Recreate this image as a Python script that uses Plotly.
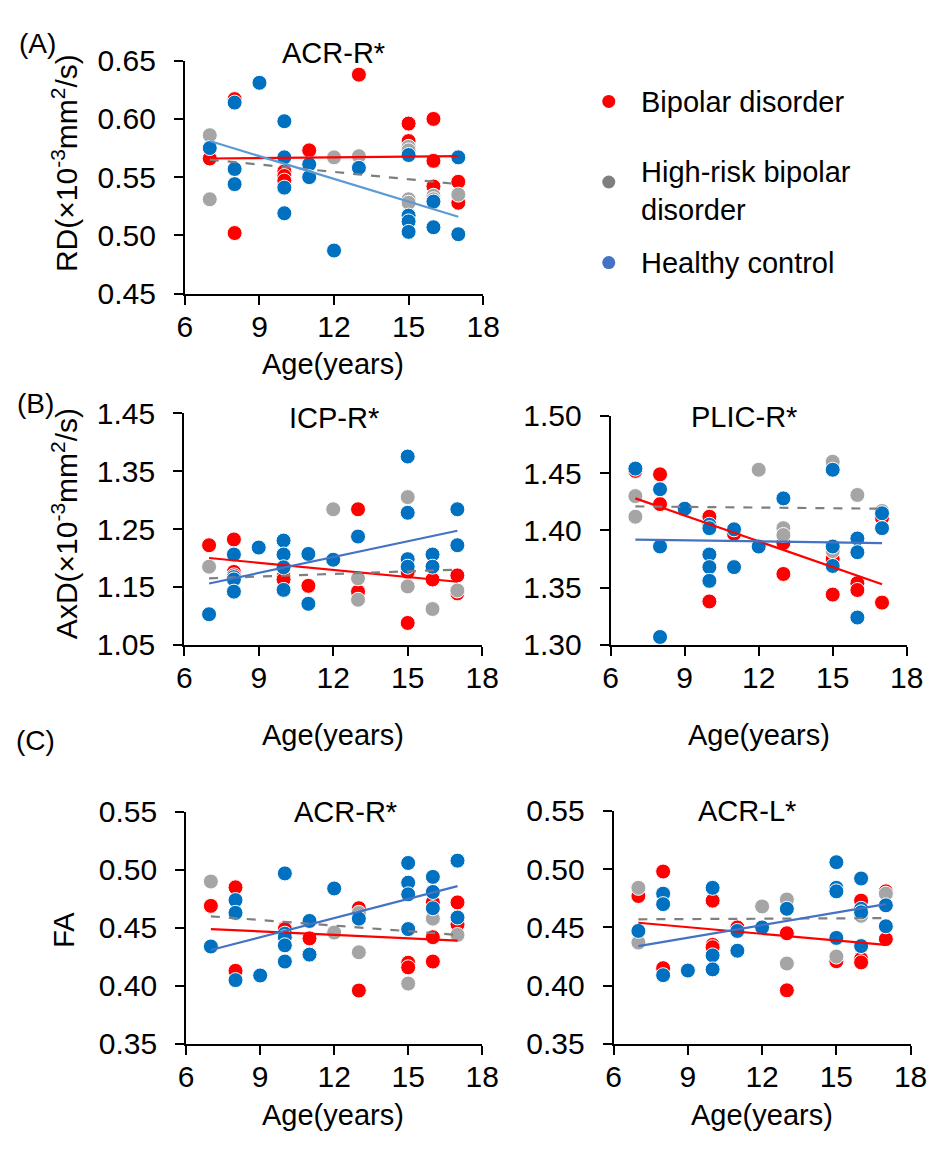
import plotly.graph_objects as go

W, H = 950, 1157

# ---------------- DATA ----------------
# Panel A: RD, ACR-R*
a_bd_age = [7, 8, 8, 10, 10, 10, 11, 13, 15, 15, 16, 16, 16, 17, 17]
a_bd_val = [0.566, 0.617, 0.502, 0.555, 0.551, 0.547, 0.573, 0.638, 0.596, 0.581, 0.600, 0.564, 0.542, 0.546, 0.528]
a_hr_age = [7, 7, 12, 13, 15, 15, 15, 15, 16, 16, 17]
a_hr_val = [0.586, 0.531, 0.567, 0.568, 0.576, 0.573, 0.531, 0.528, 0.534, 0.531, 0.535]
a_hc_age = [7, 8, 8, 8, 9, 10, 10, 10, 10, 11, 11, 12, 13, 15, 15, 15, 15, 16, 16, 17, 17]
a_hc_val = [0.575, 0.614, 0.557, 0.544, 0.631, 0.598, 0.567, 0.541, 0.519, 0.561, 0.550, 0.487, 0.558,
            0.569, 0.517, 0.512, 0.503, 0.529, 0.507, 0.567, 0.501]
a_fit_bd = [0.566, 0.568]
a_fit_hr = [0.565, 0.544]
a_fit_hc = [0.581, 0.516]

# Panel B left: AxD, ICP-R*
bl_bd_age = [7, 8, 8, 8, 10, 10, 11, 13, 13, 15, 15, 16, 17, 17]
bl_bd_val = [1.222, 1.232, 1.176, 1.170, 1.168, 1.163, 1.152, 1.284, 1.142, 1.176, 1.088, 1.163, 1.170, 1.139]
bl_hr_age = [7, 12, 13, 13, 15, 15, 16, 17]
bl_hr_val = [1.185, 1.284, 1.165, 1.128, 1.305, 1.151, 1.112, 1.144]
bl_hc_age = [7, 8, 8, 8, 8, 9, 10, 10, 10, 10, 11, 11, 12, 13, 15, 15, 15, 15, 16, 16, 17, 17]
bl_hc_val = [1.103, 1.206, 1.167, 1.163, 1.142, 1.218, 1.230, 1.206, 1.184, 1.145, 1.207, 1.121, 1.197, 1.237,
             1.375, 1.278, 1.198, 1.185, 1.206, 1.185, 1.284, 1.222]
bl_fit_bd = [1.200, 1.159]
bl_fit_hr = [1.165, 1.180]
bl_fit_hc = [1.156, 1.247]

# Panel B right: AxD, PLIC-R*
br_bd_age = [7, 8, 8, 10, 10, 11, 13, 13, 15, 15, 16, 16, 17, 17]
br_bd_val = [1.452, 1.449, 1.423, 1.412, 1.338, 1.397, 1.389, 1.362, 1.375, 1.344, 1.354, 1.348, 1.411, 1.337]
br_hr_age = [7, 7, 9, 12, 13, 13, 15, 15, 16, 17]
br_hr_val = [1.430, 1.412, 1.418, 1.453, 1.402, 1.396, 1.460, 1.382, 1.431, 1.417]
br_hc_age = [7, 8, 8, 8, 9, 10, 10, 10, 10, 10, 11, 11, 12, 13, 15, 15, 15, 16, 16, 16, 17, 17]
br_hc_val = [1.454, 1.436, 1.386, 1.307, 1.419, 1.405, 1.402, 1.379, 1.368, 1.356, 1.401, 1.368, 1.386, 1.428,
             1.453, 1.386, 1.369, 1.393, 1.381, 1.324, 1.415, 1.402]
br_fit_bd = [1.428, 1.353]
br_fit_hr = [1.421, 1.419]
br_fit_hc = [1.392, 1.389]

# Panel C left: FA, ACR-R*
cl_bd_age = [7, 8, 8, 10, 10, 11, 13, 13, 15, 15, 16, 16, 16, 17, 17]
cl_bd_val = [0.469, 0.485, 0.413, 0.450, 0.449, 0.441, 0.467, 0.396, 0.420, 0.416, 0.472, 0.442, 0.421, 0.472, 0.453]
cl_hr_age = [7, 12, 13, 13, 15, 16, 17]
cl_hr_val = [0.490, 0.446, 0.463, 0.429, 0.402, 0.458, 0.444]
cl_hc_age = [7, 8, 8, 8, 9, 10, 10, 10, 10, 10, 11, 11, 12, 13, 15, 15, 15, 15, 16, 16, 16, 17, 17]
cl_hc_val = [0.434, 0.474, 0.463, 0.405, 0.409, 0.497, 0.445, 0.442, 0.435, 0.421, 0.456, 0.427, 0.484, 0.458,
             0.506, 0.489, 0.479, 0.449, 0.494, 0.481, 0.467, 0.508, 0.459]
cl_fit_bd = [0.449, 0.439]
cl_fit_hr = [0.460, 0.444]
cl_fit_hc = [0.431, 0.486]

# Panel C right: FA, ACR-L*
cr_bd_age = [7, 8, 8, 10, 10, 10, 11, 13, 13, 15, 16, 16, 16, 17, 17]
cr_bd_val = [0.477, 0.498, 0.415, 0.473, 0.435, 0.433, 0.450, 0.445, 0.396, 0.421, 0.473, 0.423, 0.420, 0.481, 0.440]
cr_hr_age = [7, 7, 12, 13, 13, 15, 15, 16, 17]
cr_hr_val = [0.484, 0.437, 0.468, 0.474, 0.419, 0.481, 0.425, 0.460, 0.479]
cr_hc_age = [7, 8, 8, 8, 9, 10, 10, 10, 11, 11, 12, 13, 15, 15, 15, 15, 16, 16, 16, 16, 17, 17]
cr_hc_val = [0.447, 0.479, 0.470, 0.409, 0.413, 0.484, 0.426, 0.414, 0.447, 0.430, 0.450, 0.466,
             0.506, 0.484, 0.481, 0.441, 0.492, 0.466, 0.463, 0.434, 0.469, 0.451]
cr_fit_bd = [0.454, 0.435]
cr_fit_hr = [0.457, 0.458]
cr_fit_hc = [0.434, 0.470]

fit_ages = [7, 17]
x_ticks = [6, 9, 12, 15, 18]
group_names = ["Bipolar disorder", "High-risk bipolar<br>disorder", "Healthy control"]

# ---------------- STYLE ----------------
FONT = "Arial, Liberation Sans, sans-serif"
C_BD, C_HR, C_HC = "#FF0000", "#A5A5A5", "#0070C0"
L_HR = "#7F7F7F"

fig = go.Figure()

panels = [
    ("", (a_bd_age, a_bd_val, a_hr_age, a_hr_val, a_hc_age, a_hc_val), (a_fit_bd, a_fit_hr, a_fit_hc),
     "#5B9BD5", (181.7, 488), (45, 285), (0.45, 0.65), 0.05),
    ("2", (bl_bd_age, bl_bd_val, bl_hr_age, bl_hr_val, bl_hc_age, bl_hc_val), (bl_fit_bd, bl_fit_hr, bl_fit_hc),
     "#4472C4", (181, 487), (408, 647), (1.05, 1.45), 0.1),
    ("3", (br_bd_age, br_bd_val, br_hr_age, br_hr_val, br_hc_age, br_hc_val), (br_fit_bd, br_fit_hr, br_fit_hc),
     "#4472C4", (619, 923), (411, 647), (1.30, 1.50), 0.05),
    ("4", (cl_bd_age, cl_bd_val, cl_hr_age, cl_hr_val, cl_hc_age, cl_hc_val), (cl_fit_bd, cl_fit_hr, cl_fit_hc),
     "#4472C4", (183, 487), (819, 1058), (0.35, 0.55), 0.05),
    ("5", (cr_bd_age, cr_bd_val, cr_hr_age, cr_hr_val, cr_hc_age, cr_hc_val), (cr_fit_bd, cr_fit_hr, cr_fit_hc),
     "#4472C4", (622, 927), (818, 1058), (0.35, 0.55), 0.05),
]

layout_axes = {}
for suf, d, fits, hc_line, (px0, px1), (py0, py1), yr, dt in panels:
    xa, ya = "x" + suf, "y" + suf
    for age, val, col in ((d[0], d[1], C_BD), (d[2], d[3], C_HR), (d[4], d[5], C_HC)):
        fig.add_trace(go.Scatter(x=age, y=val, mode="markers", xaxis=xa, yaxis=ya, showlegend=False,
                                 cliponaxis=False,
                                 marker=dict(size=15, color=col, line=dict(color="white", width=1))))
    for fv, col, dash in ((fits[0], C_BD, "solid"), (fits[1], L_HR, "dash"), (fits[2], hc_line, "solid")):
        fig.add_trace(go.Scatter(x=fit_ages, y=fv, mode="lines", xaxis=xa, yaxis=ya, showlegend=False,
                                 line=dict(color=col, width=2.2, dash=dash)))
    n = int(round((yr[1] - yr[0]) / dt))
    yt = [round(yr[0] + i * dt, 2) for i in range(n + 1)]
    common = dict(showline=True, linecolor="black", linewidth=2, ticks="outside", ticklen=9,
                  tickwidth=2, tickcolor="black", showgrid=False, zeroline=False,
                  tickfont=dict(family=FONT, size=30, color="black"))
    layout_axes["xaxis" + suf] = dict(common, domain=[px0 / W, px1 / W], range=[6, 18],
                                      tickvals=x_ticks, anchor=ya, ticklabelstandoff=-4)
    layout_axes["yaxis" + suf] = dict(common, domain=[1 - py1 / H, 1 - py0 / H], range=list(yr),
                                      tickvals=yt, tickformat=".2f", anchor=xa, ticklabelstandoff=12)

fig.update_layout(**layout_axes)

ann = []
def text(x, y, s, size=29, angle=0, xanchor="center"):
    ann.append(dict(x=x / W, y=1 - y / H, xref="paper", yref="paper", text=s, showarrow=False,
                    textangle=angle, xanchor=xanchor, yanchor="middle",
                    font=dict(family=FONT, size=size, color="black")))

# panel labels
text(30, 27, "(A)", 28)
text(28, 398, "(B)", 28)
text(28, 745, "(C)", 28)
# titles
text(334, 37, "ACR-R*")
text(335, 413, "ICP-R*")
text(756, 412, "PLIC-R*")
text(347, 819, "ACR-R*")
text(759, 818, "ACR-L*")
# y titles
text(58, 150, "RD(×10<sup>-3</sup>mm<sup>2</sup>/s)", 30, -90)
text(58, 522, "AxD(×10<sup>-3</sup>mm<sup>2</sup>/s)", 30, -90)
text(58, 940, "FA", 29, -90)
# x titles
text(334, 358, "Age(years)")
text(334, 740, "Age(years)")
text(771, 740, "Age(years)")
text(334, 1131, "Age(years)")
text(774, 1131, "Age(years)")
# legend
text(648, 88, group_names[0], 29, 0, "left")
ann.append(dict(x=648 / W, y=1 - 179 / H, xref="paper", yref="paper", text=group_names[1], showarrow=False,
                xanchor="left", yanchor="middle", align="left",
                font=dict(family=FONT, size=29, color="black")))
text(648, 253, group_names[2], 29, 0, "left")

shapes = []
for yy, col in ((87, "#FF0000"), (170, "#7F7F7F"), (253, "#4472C4")):
    shapes.append(dict(type="circle", xref="paper", yref="paper", xsizemode="pixel", ysizemode="pixel",
                       xanchor=617 / W, yanchor=1 - yy / H, x0=-6.5, x1=6.5, y0=-6.5, y1=6.5,
                       fillcolor=col, line=dict(width=0)))

fig.update_layout(width=W, height=H, margin=dict(l=0, r=0, t=0, b=0), paper_bgcolor="white",
                  plot_bgcolor="white", annotations=ann, shapes=shapes, showlegend=False)

fig.write_html("out.html")
